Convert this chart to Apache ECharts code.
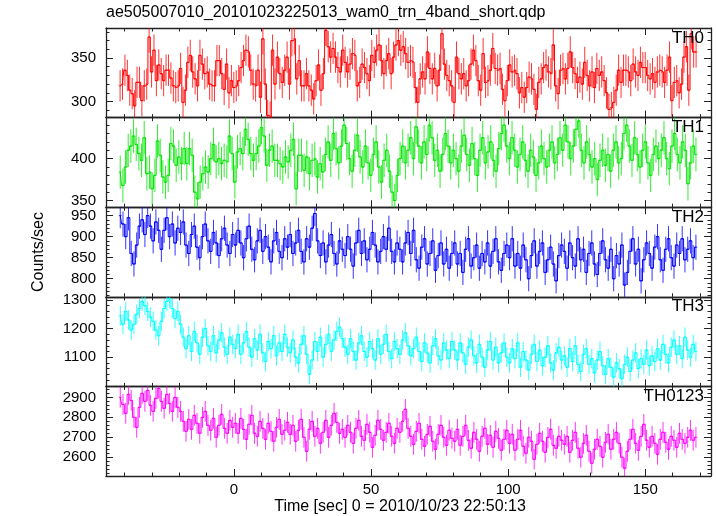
<!DOCTYPE html>
<html><head><meta charset="utf-8">
<script src="https://cdn.jsdelivr.net/npm/echarts@6/dist/echarts.min.js"></script>
<style>html,body{margin:0;padding:0;background:#fff}#c{width:717px;height:516px}</style>
</head><body><div id="c"></div>
<script>
const chartTitle = "ae505007010_20101023225013_wam0_trn_4band_short.qdp";
const xTitle = "Time [sec] 0 = 2010/10/23 22:50:13";
const yTitle = "Counts/sec";
const bandNames = ["TH0", "TH1", "TH2", "TH3", "TH0123"];
const bandColors = ["#ff0000", "#00e600", "#0000ff", "#00ffff", "#ff00ff"];
const timeStart = -42, timeEnd = 169;
const xMin = -46.7, xMax = 174;
const xMajorTicks = [0, 50, 100, 150];
const xMinorTicks = [-40, -30, -20, -10, 0, 10, 20, 30, 40, 50, 60, 70, 80, 90, 100, 110, 120, 130, 140, 150, 160, 170];

const th0 = [318,320,336,330,313,309,295,322,322,301,318,320,374,334,359,324,342,332,324,336,336,327,318,316,318,338,299,313,345,353,334,326,318,353,343,332,334,320,318,318,347,347,332,314,343,310,324,316,318,324,339,347,359,357,336,320,318,336,305,372,320,284,282,359,320,351,332,322,336,351,320,
370,372,326,347,318,318,332,318,313,303,324,342,313,332,382,363,351,361,351,339,334,359,345,334,343,355,353,318,322,343,339,332,324,353,345,359,365,347,332,347,355,332,351,365,370,359,363,355,345,347,345,316,299,326,334,326,357,338,326,338,318,336,378,343,330,324,318,299,351,332,326,332,318,324,343,359,347,324,313,355,322,324,336,
361,338,336,338,314,301,324,342,334,336,332,310,316,305,316,328,326,314,291,322,326,339,342,334,332,365,318,309,336,338,326,338,357,339,332,322,328,320,345,330,318,334,316,338,330,334,324,310,291,293,299,313,336,322,336,336,334,324,343,334,330,345,339,339,330,326,332,322,334,336,334,322,336,351,301,322,324,310,320,351,363,313,378,357,357];
const th1 = [384,368,390,410,415,427,417,406,398,425,382,384,364,380,421,404,378,372,380,418,415,392,402,394,412,394,412,404,360,352,372,382,390,384,400,417,396,400,394,398,396,427,406,372,408,412,406,435,423,406,398,406,415,437,427,392,410,415,398,398,394,390,402,396,410,423,364,404,404,386,402,382,398,400,378,394,384,
405,420,398,430,412,395,415,440,418,400,385,410,428,402,390,415,
395,380,405,420,390,372,398,410,385,360,350,380,400,415,395,
410,425,400,438,415,395,420,405,440,425,398,410,385,405,430,415,395,
410,400,385,415,428,405,392,418,400,380,410,425,395,408,420,398,385,412,
430,440,415,400,425,410,390,405,420,398,385,410,402,380,395,415,400,390,410,420,
395,405,425,410,440,420,400,415,435,445,410,395,420,405,390,400,375,398,410,392,
405,385,410,420,395,400,430,440,415,398,425,405,390,410,420,395,380,405,415,400,
410,425,400,388,415,430,405,395,420,410,370,395,415,405];
const th2 = [950,930,900,945,860,835,880,925,940,905,950,925,890,935,915,870,915,945,900,930,885,920,
910,935,880,860,905,925,875,850,900,930,890,865,910,885,855,895,920,880,860,905,
880,915,885,850,895,925,870,845,890,915,865,900,875,840,890,910,865,850,895,875,
905,860,885,915,865,840,895,875,920,955,890,855,885,840,880,905,860,835,890,870,
855,900,870,830,885,915,860,890,845,870,910,880,840,865,900,870,920,865,840,885,
870,840,885,910,860,915,845,825,875,895,835,860,890,820,855,885,835,870,825,860,
885,835,860,815,870,895,830,850,880,825,860,840,885,830,865,895,840,820,860,880,
850,895,830,860,825,880,845,800,855,890,830,865,885,815,845,875,835,795,855,880,
865,825,885,850,830,895,845,870,815,860,885,835,810,860,890,845,825,870,800,855,
835,880,785,815,865,895,835,870,795,845,885,860,825,875,900,845,820,870,895,850,830,880,860,895,845,870,890,850,875];
const th3 = [1245,1215,1260,1230,1195,1215,1250,1270,1295,1280,1260,1240,1225,1195,1175,1225,1270,1295,1305,1270,1235,1260,
1215,1170,1130,1175,1120,1190,1150,1110,1170,1200,1140,1120,1175,1115,1160,1185,1135,1110,1170,1145,
1130,1180,1110,1150,1190,1135,1100,1165,1125,1180,1115,1085,1155,1130,1175,1105,1150,1120,1180,1135,
1115,1160,1100,1080,1145,1175,1110,1040,1090,1155,1120,1170,1100,1145,1180,1120,1160,1190,1205,1165,
1135,1110,1165,1120,1090,1150,1175,1120,1100,1155,1130,1090,1165,1110,1145,1180,1120,1095,1155,1130,
1110,1160,1185,1140,1105,1130,1170,1120,1085,1150,1115,1080,1140,1165,1105,1090,1150,1125,1095,1155,
1125,1090,1150,1115,1075,1135,1160,1105,1080,1145,1100,1065,1125,1155,1090,1135,1080,1115,1150,1100,
1080,1130,1095,1150,1065,1120,1090,1055,1110,1145,1085,1125,1070,1100,1140,1080,1055,1115,1135,1090,
1105,1065,1130,1085,1140,1075,1050,1110,1130,1075,1095,1045,1090,1120,1070,1040,1095,1065,1030,1080,
1060,1025,1075,1100,1050,1090,1115,1060,1095,1075,1125,1070,1105,1085,1130,1090,1145,1110,1080,1135,1160,1110,1140,1095,1170,1125,1100,1145,1120];
const th0123 = [2900,2865,2820,2915,2885,2800,2750,2850,2920,2880,2935,2860,2830,2895,2945,2880,2845,2915,2870,2830,2900,2850,
2830,2780,2730,2790,2740,2810,2770,2720,2800,2830,2760,2735,2795,2700,2760,2815,2745,2720,2785,2750,
2770,2720,2795,2740,2690,2765,2810,2720,2705,2780,2745,2690,2770,2730,2680,2750,2790,2715,2735,2775,
2715,2760,2680,2735,2790,2700,2630,2740,2780,2705,2745,2670,2725,2785,2700,2760,2820,2775,2720,2740,
2700,2760,2725,2670,2745,2785,2705,2685,2765,2725,2650,2710,2785,2740,2685,2725,2770,2705,2670,2745,
2725,2780,2840,2745,2705,2665,2730,2770,2690,2655,2715,2755,2680,2640,2715,2760,2700,2660,2735,2695,
2680,2740,2660,2705,2760,2685,2645,2725,2690,2630,2705,2745,2665,2710,2650,2730,2695,2635,2690,2735,
2670,2715,2635,2690,2735,2655,2620,2700,2680,2590,2665,2720,2680,2625,2700,2740,2660,2645,2705,2685,
2665,2705,2625,2685,2725,2645,2600,2670,2710,2630,2570,2640,2690,2655,2600,2675,2715,2640,2690,2725,
2670,2600,2545,2630,2690,2740,2670,2635,2705,2765,2685,2650,2705,2670,2615,2690,2725,2675,2640,2705,2685,2650,2720,2690,2670,2700,2735,2685,2700];
const bandValues = [th0, th1, th2, th3, th0123];
const bandErrors = [18, 20, 30, 34, 52];
const yRanges = [[281.5, 384.5], [342, 449], [757, 970], [998, 1311], [2506, 2955]];
const yMajorTicks = [[300, 350], [350, 400], [800, 850, 900, 950], [1100, 1200, 1300], [2600, 2700, 2800, 2900]];
const yMinorTicks = [
  [290, 300, 310, 320, 330, 340, 350, 360, 370, 380],
  [350, 360, 370, 380, 390, 400, 410, 420, 430, 440],
  [760, 770, 780, 790, 800, 810, 820, 830, 840, 850, 860, 870, 880, 890, 900, 910, 920, 930, 940, 950, 960, 970],
  [1000, 1020, 1040, 1060, 1080, 1100, 1120, 1140, 1160, 1180, 1200, 1220, 1240, 1260, 1280, 1300],
  [2520, 2540, 2560, 2580, 2600, 2620, 2640, 2660, 2680, 2700, 2720, 2740, 2760, 2780, 2800, 2820, 2840, 2860, 2880, 2900, 2920, 2940]
];

const FONT = "'Liberation Sans', Arial, Helvetica, sans-serif";
const AX = '#222';
const plotLeft = 106, plotWidth = 605, plotTop = 28, panelH = 89.6;
const plain = v => String(Math.round(v));

const grids = [], xAxes = [], yAxes = [], series = [];
bandNames.forEach((name, i) => {
  grids.push({ left: plotLeft, top: plotTop + i * panelH, width: plotWidth, height: panelH });
  const xBase = { type: 'value', gridIndex: i, min: xMin, max: xMax, splitLine: { show: false }, minorTick: { show: false } };
  const mk = (pos, ticks, len, line, labels) => Object.assign({}, xBase, {
    position: pos,
    axisLine: { show: line, onZero: false, lineStyle: { color: AX, width: 1.3 } },
    axisTick: { show: true, inside: true, length: len, customValues: ticks, lineStyle: { color: AX, width: 1 } },
    axisLabel: labels ? { show: true, customValues: xMajorTicks, formatter: plain, fontFamily: FONT, fontSize: 15, color: '#000', margin: 6 } : { show: false }
  });
  xAxes.push(mk('bottom', xMajorTicks, 7, true, i === 4));
  xAxes.push(mk('bottom', xMinorTicks, 3.5, false, false));
  xAxes.push(mk('top', xMajorTicks, 7, true, false));
  xAxes.push(mk('top', xMinorTicks, 3.5, false, false));
  const yBase = { type: 'value', gridIndex: i, min: yRanges[i][0], max: yRanges[i][1], splitLine: { show: false } };
  const mky = (pos, ticks, len, line, labels) => Object.assign({}, yBase, {
    position: pos,
    axisLine: { show: line, onZero: false, lineStyle: { color: AX, width: 1.3 } },
    axisTick: { show: true, inside: true, length: len, customValues: ticks, lineStyle: { color: AX, width: 1 } },
    axisLabel: labels ? { show: true, customValues: yMajorTicks[i], formatter: plain, fontFamily: FONT, fontSize: 15, color: '#000', margin: 10 } : { show: false }
  });
  yAxes.push(mky('left', yMajorTicks[i], 7, true, true));
  yAxes.push(mky('left', yMinorTicks[i], 3.5, false, false));
  yAxes.push(mky('right', yMajorTicks[i], 7, true, false));
  yAxes.push(mky('right', yMinorTicks[i], 3.5, false, false));

  const vals = bandValues[i];
  const dt = (timeEnd - timeStart) / vals.length;
  const data = vals.map((v, k) => [timeStart + (k + 0.5) * dt, v, bandErrors[i], dt / 2]);
  const color = bandColors[i];
  series.push({
    type: 'line', name: name + ' step', xAxisIndex: 4 * i, yAxisIndex: 4 * i,
    data: data.map(d => [d[0], d[1]]), step: 'middle', showSymbol: false, symbol: 'none',
    lineStyle: { color, width: 1 }, clip: true, silent: true, animation: false
  });
  series.push({
    type: 'custom', name, xAxisIndex: 4 * i, yAxisIndex: 4 * i, data,
    renderItem: (params, api) => {
      const cs = params.coordSys;
      const t = api.value(0), v = api.value(1), e = api.value(2), hw = api.value(3);
      const a = api.coord([t - hw, v]), b = api.coord([t + hw, v]);
      const top = api.coord([t, v + e]), bot = api.coord([t, v - e]);
      const y0 = cs.y, y1 = cs.y + cs.height;
      const cl = y => Math.max(y0, Math.min(y1, y));
      const st = { stroke: color, lineWidth: 1, opacity: 0.8 };
      const ch = [];
      if (a[1] >= y0 && a[1] <= y1) ch.push({ type: 'line', shape: { x1: a[0], y1: a[1], x2: b[0], y2: b[1] }, style: st });
      ch.push({ type: 'line', shape: { x1: top[0], y1: cl(top[1]), x2: bot[0], y2: cl(bot[1]) }, style: st });
      return { type: 'group', children: ch };
    },
    silent: true, animation: false
  });
});

const graphics = [
  { type: 'text', left: plotLeft, top: 5, style: { text: chartTitle, font: "16px " + FONT, fill: '#000' } },
  { type: 'text', x: 400, y: 507, style: { text: xTitle, font: "16px " + FONT, fill: '#000', textAlign: 'center', textVerticalAlign: 'middle' } },
  { type: 'text', x: 39, y: 252, rotation: Math.PI / 2, style: { text: yTitle, font: "16px " + FONT, fill: '#000', textAlign: 'center', textVerticalAlign: 'middle' } }
];
bandNames.forEach((name, i) => {
  graphics.push({ type: 'text', x: 704, y: plotTop + i * panelH + 10, style: { text: name, font: "17px " + FONT, fill: '#000', textAlign: 'right', textVerticalAlign: 'middle' }, z: 100 });
});

const chart = echarts.init(document.getElementById('c'), null, { renderer: 'canvas' });
chart.setOption({ animation: false, backgroundColor: '#fff', grid: grids, xAxis: xAxes, yAxis: yAxes, series, graphic: graphics });
</script></body></html>
